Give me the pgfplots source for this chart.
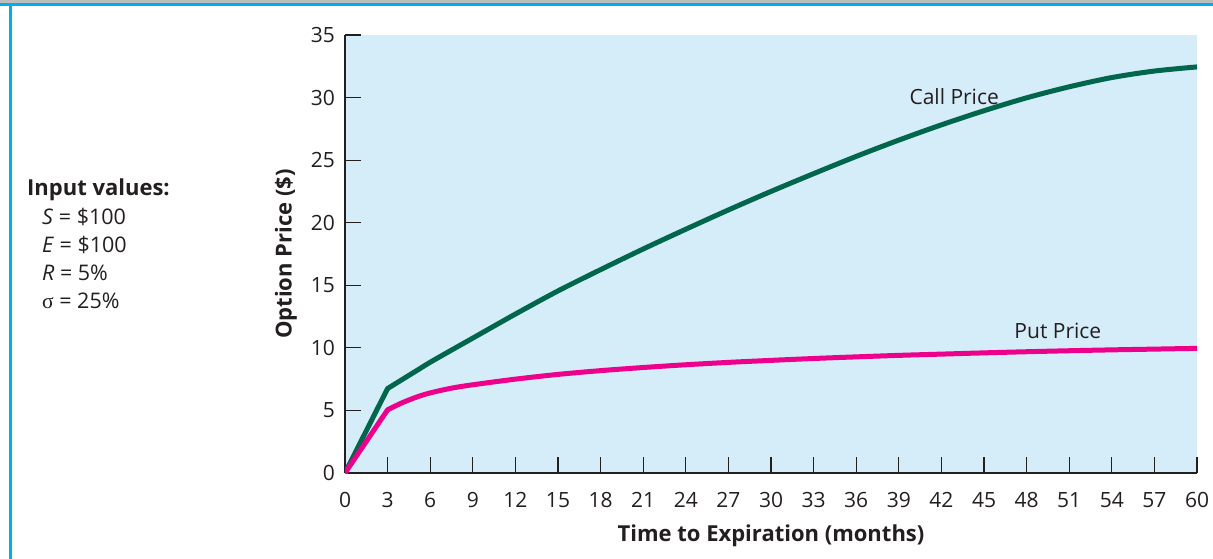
\documentclass[border=0pt]{standalone}
\usepackage{pgfplots}
\pgfplotsset{compat=1.18}
\usepackage{pgfplotstable}
\usepackage{fontspec}
\setmainfont{Open Sans}
\newfontfamily\symfont{Liberation Serif}
\definecolor{bgblue}{HTML}{D5ECF9}
\definecolor{framblue}{HTML}{00AEEF}
\definecolor{stripgrey}{HTML}{BCBEBB}
\definecolor{callgreen}{HTML}{00664C}
\definecolor{putpink}{HTML}{EC008C}
\definecolor{ink}{HTML}{231F20}

\pgfplotstableread{
month call put
0 0 0
3 6.75 5.05
4 7.45 5.6
5 8.15 6.05
6 8.85 6.4
7.5 9.82 6.78
9 10.78 7.05
12 12.7 7.5
15 14.55 7.88
18 16.25 8.18
21 17.9 8.43
24 19.48 8.65
27 21.02 8.84
30 22.5 9.0
33 23.92 9.15
36 25.3 9.28
39 26.6 9.4
42 27.82 9.5
45 28.95 9.6
48 29.98 9.69
51 30.86 9.77
54 31.6 9.84
57 32.12 9.9
60 32.45 9.96
}\optiondata

\begin{document}
\begin{tikzpicture}
\path[use as bounding box] (0pt,0pt) rectangle (1213pt,-559pt);
\fill[white] (0pt,0pt) rectangle (1213pt,-559pt);
\fill[stripgrey] (0pt,0pt) rectangle (1213pt,-3.3pt);
\fill[framblue] (0pt,-3.3pt) rectangle (1213pt,-5.8pt);
\fill[framblue] (9pt,-3.3pt) rectangle (12pt,-559pt);

\begin{axis}[
  at={(345pt,-473pt)}, anchor=south west,
  scale only axis, width=852pt, height=438pt,
  xmin=0, xmax=60, ymin=0, ymax=35,
  axis x line*=bottom, axis y line*=left,
  axis line style={ink, line width=1.3pt},
  xtick={0,3,...,60}, ytick={0,5,...,35},
  tick align=inside, major tick length=16pt,
  tick style={ink, line width=1.1pt},
  axis background/.style={fill=bgblue},
  /pgf/number format/assume math mode=true,
  ticklabel style={font=\fontsize{21}{24}\selectfont, text=ink},
  xticklabel style={anchor=base, inner sep=0pt, yshift=-34pt},
  yticklabel style={anchor=east, inner sep=0pt, xshift=-10pt},
  xlabel={Time to Expiration (months)},
  ylabel={Option Price (\$)},
  every axis x label/.style={at={(axis description cs:0.5,-0.1553)}, anchor=base, font=\fontsize{22}{24}\selectfont\bfseries, text=ink},
  every axis y label/.style={at={(axis description cs:-0.0693,0.5)}, anchor=center, rotate=90, font=\fontsize{22}{24}\selectfont\bfseries, text=ink},
]
% Call price
\addplot[callgreen, line width=5pt, line cap=round, forget plot, restrict x to domain=0:3] table[x=month, y=call] {\optiondata};
\addplot[callgreen, line width=5pt, line join=round, smooth, tension=0.5, restrict x to domain=3:60] table[x=month, y=call] {\optiondata};
% Put price
\addplot[putpink, line width=5pt, line cap=round, forget plot, restrict x to domain=0:3] table[x=month, y=put] {\optiondata};
\addplot[putpink, line width=5pt, line join=round, smooth, tension=0.5, restrict x to domain=3:60] table[x=month, y=put] {\optiondata};
\node[font=\fontsize{21}{24}\selectfont, text=ink] at (axis cs:42.9,30.05) {Call Price};
\node[font=\fontsize{21}{24}\selectfont, text=ink] at (axis cs:50.2,11.35) {Put Price};
\end{axis}

\begin{scope}[every node/.style={anchor=base west, inner sep=0pt, text=ink, font=\fontsize{21.5}{24}\selectfont}]
\node[font=\fontsize{22}{24}\selectfont\bfseries] at (27pt,-195pt) {Input values:};
\node at (42pt,-224.5pt) {\textit{S} = \$100};
\node at (42pt,-252.5pt) {\textit{E} = \$100};
\node at (42pt,-280.5pt) {\textit{R} = 5\%};
\node at (42pt,-308.5pt) {{\symfont σ} = 25\%};
\end{scope}
\end{tikzpicture}
\end{document}
